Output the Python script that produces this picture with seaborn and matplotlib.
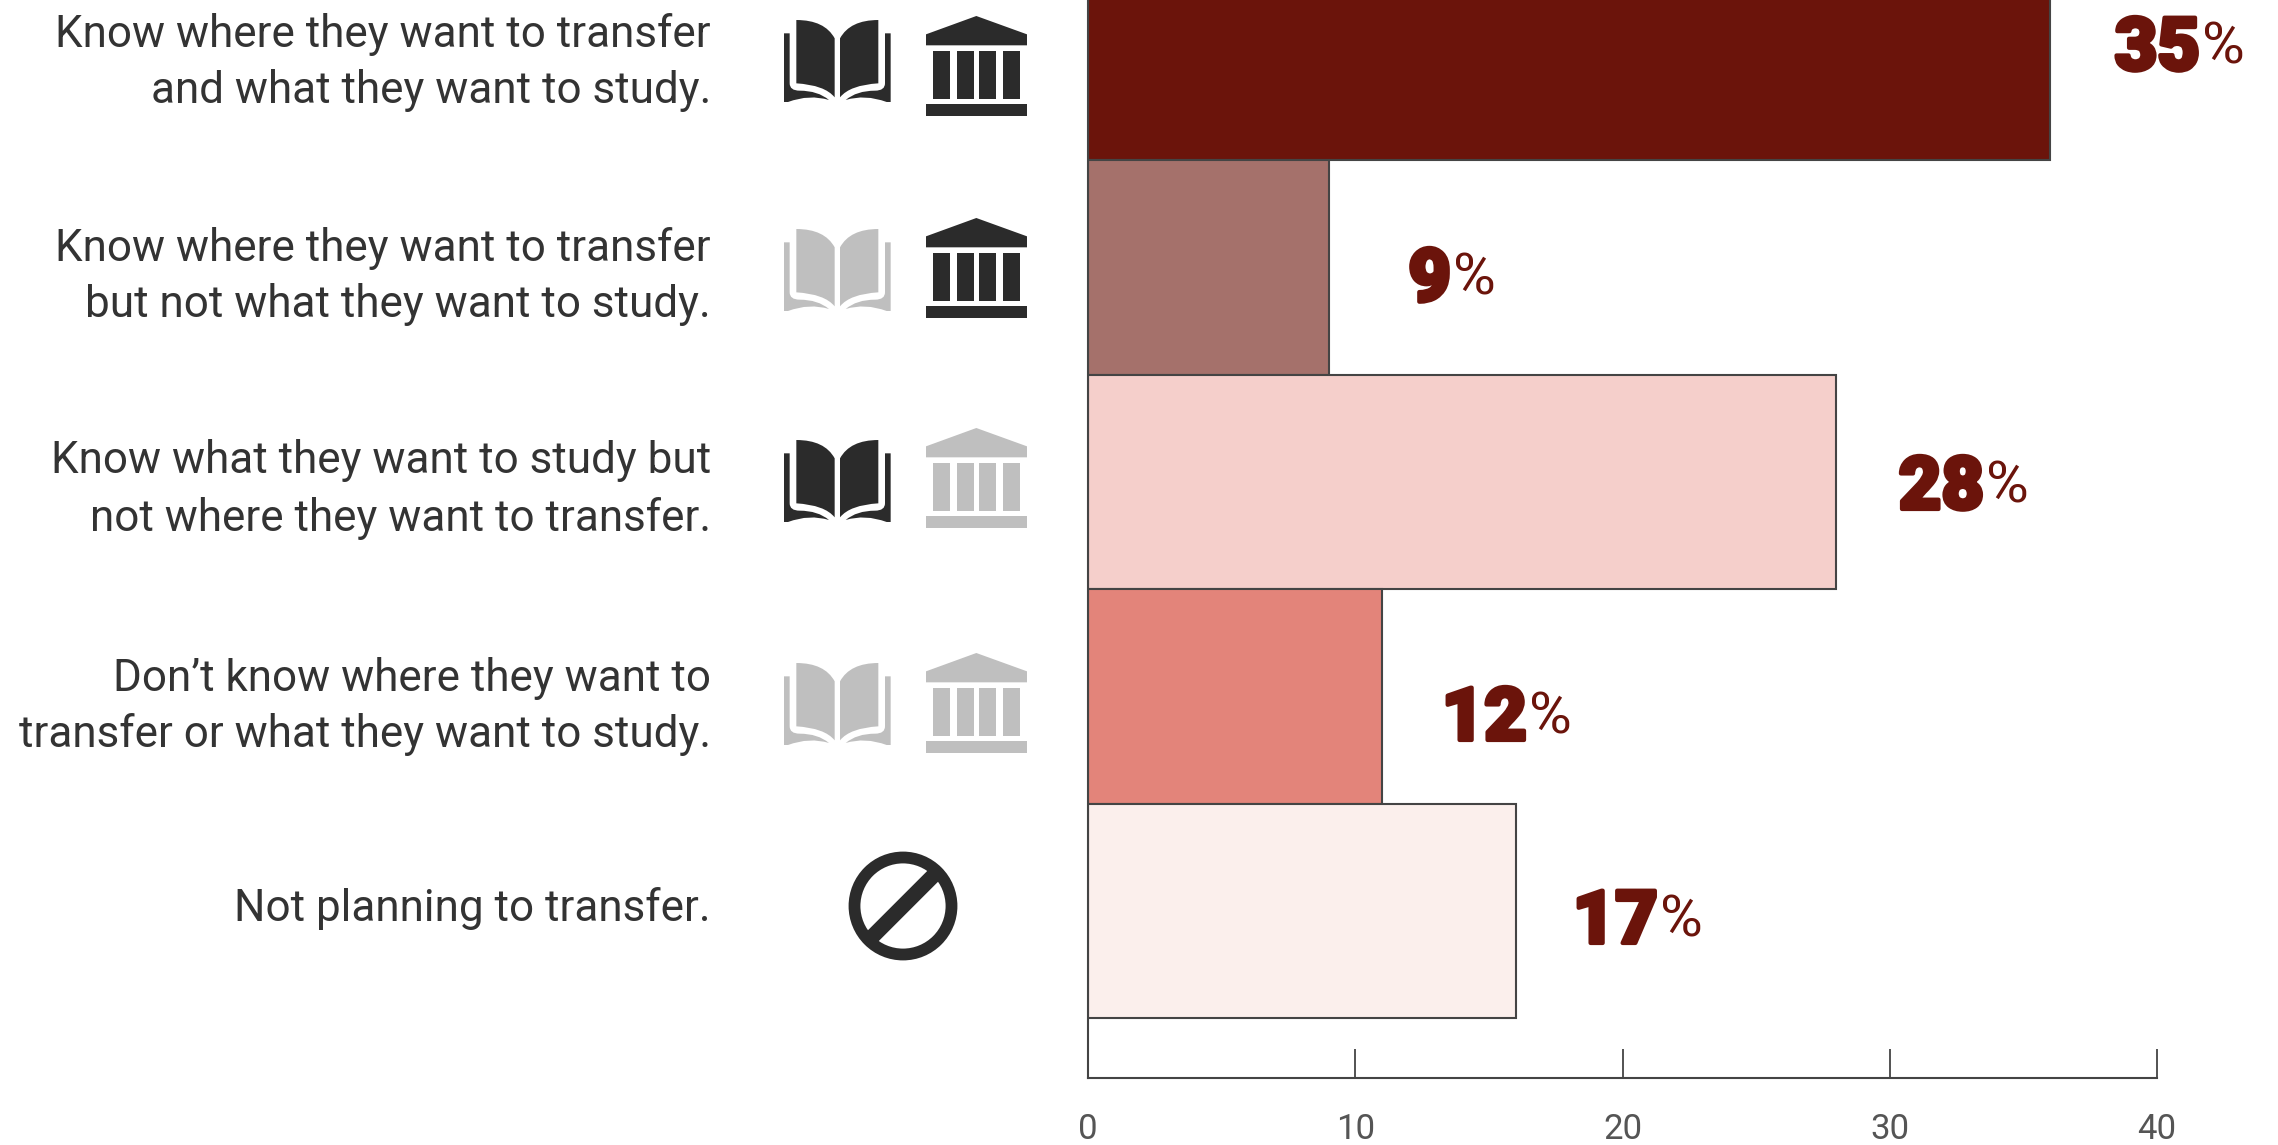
import pandas as pd
import matplotlib
matplotlib.use("Agg")
import matplotlib.pyplot as plt
import seaborn as sns
from matplotlib.path import Path
from matplotlib.patches import PathPatch, Circle, Polygon, Rectangle
import matplotlib.patheffects as pe

# data
categories = [
    "Know where they want to transfer\nand what they want to study.",
    "Know where they want to transfer\nbut not what they want to study.",
    "Know what they want to study but\nnot where they want to transfer.",
    "Don\u2019t know where they want to\ntransfer or what they want to study.",
    "Not planning to transfer.",
]
bar_values = [36, 9, 28, 11, 16]
label_values = ["35", "9", "28", "12", "17"]
bar_colors = ["#6b140b", "#a5716b", "#f5cfcb", "#e3847a", "#fbefec"]
x_ticks = [0, 10, 20, 30, 40]

W, H = 2278, 1145
DARK = "#2b2b2b"
GREY = "#bfbfbf"
TEXT = "#333333"
RED = "#6b140b"

sns.set_theme(style="white")
plt.rcParams["font.family"] = ["Roboto", "DejaVu Sans"]

fig = plt.figure(figsize=(W / 100, H / 100), dpi=100, facecolor="white")
ax = fig.add_axes([1088 / W, (H - 1078) / H, 1069 / W, 1078 / H])

df = pd.DataFrame({"group": categories, "value": bar_values})
sns.barplot(
    data=df,
    x="value",
    y="group",
    hue="group",
    palette=bar_colors,
    saturation=1,
    orient="h",
    width=1,
    legend=False,
    edgecolor="#444444",
    linewidth=1.5,
    ax=ax,
)
ax.set_xlim(0, 40)
ax.set_ylim(4.778, -0.247)
ax.set_xlabel("")
ax.set_ylabel("")
ax.set_yticks([])
ax.set_xticks(x_ticks)
ax.tick_params(axis="x", direction="in", length=21, width=1.3, color="#444444",
               pad=25, labelsize=25, labelcolor="#555555", bottom=True)
ax.spines["top"].set_visible(False)
ax.spines["right"].set_visible(False)
for s in ["left", "bottom"]:
    ax.spines[s].set_color("#444444")
    ax.spines[s].set_linewidth(1.5)
ax.patch.set_alpha(0)

# overlay in pixel coordinates for the row labels and icons
ov = fig.add_axes([0, 0, 1, 1], zorder=5)
ov.set_xlim(0, W)
ov.set_ylim(H, 0)
ov.axis("off")

line_y = [(35, 91), (249, 304), (461, 518), (679, 734), (909,)]
for cat, ys in zip(categories, line_y):
    for line, y in zip(cat.split("\n"), ys):
        ov.text(711, y, line, ha="right", va="center", fontsize=31.7,
                color=TEXT)

# percent labels: heavy number + thin percent sign
pct_x = [2200, 1451, 1984, 1527, 1658]
pct_y = [42, 273, 481, 712, 915]
for val, x, y in zip(label_values, pct_x, pct_y):
    ov.text(x, y, val, ha="right", va="center_baseline", fontsize=53,
            fontweight="black", color=RED,
            path_effects=[pe.withStroke(linewidth=3, foreground=RED)])
    ov.text(x + 2, y, "%", ha="left", va="center_baseline", fontsize=42,
            color=RED)


def book(x0, y0, color):
    # x0, y0 = top left of the icon, shape in zoomed px (3x)
    def tr(pts, mirror=False):
        out = []
        for px, py in pts:
            if mirror:
                px = 326 - px
            out.append((x0 + px / 3, y0 + py / 3))
        return out
    page = [(40, 0), (125, 0), (155, 55), (155, 232), (125, 195), (40, 190), (40, 0)]
    page_codes = [Path.MOVETO, Path.CURVE3, Path.CURVE3, Path.LINETO, Path.CURVE3, Path.CURVE3, Path.CLOSEPOLY]
    cover = [(3, 40), (20, 40), (20, 190), (20, 212), (50, 212), (105, 212), (138, 240),
             (80, 222), (15, 246), (3, 246), (3, 40)]
    cover_codes = [Path.MOVETO, Path.LINETO, Path.LINETO, Path.CURVE3, Path.CURVE3, Path.CURVE3, Path.CURVE3,
                   Path.CURVE3, Path.CURVE3, Path.LINETO, Path.CLOSEPOLY]
    for mirror in (False, True):
        ov.add_patch(PathPatch(Path(tr(page, mirror), page_codes), fc=color, ec="none"))
        ov.add_patch(PathPatch(Path(tr(cover, mirror), cover_codes), fc=color, ec="none"))


def building(x0, y0, color):
    pts = [(151, 0), (303, 55), (303, 88), (0, 88), (0, 55)]
    ov.add_patch(Polygon([(x0 + a / 3, y0 + b / 3) for a, b in pts], fc=color, ec="none"))
    for a, b in [(22, 73), (94, 145), (160, 210), (231, 282)]:
        ov.add_patch(Rectangle((x0 + a / 3, y0 + 105 / 3), (b - a) / 3, 145 / 3, fc=color, ec="none"))
    ov.add_patch(Rectangle((x0, y0 + 264 / 3), 101, 12, fc=color, ec="none"))


book_tops = [20, 229, 440, 663]
book_cols = [DARK, GREY, DARK, GREY]
build_tops = [16, 218, 428, 653]
build_cols = [DARK, DARK, GREY, GREY]
for t, c in zip(book_tops, book_cols):
    book(783, t, c)
for t, c in zip(build_tops, build_cols):
    building(926, t, c)

# "not planning" icon
ov.add_patch(Circle((903, 906), 48.5, fc="none", ec=DARK, lw=8.5))
ov.plot([868, 938], [941, 871], color=DARK, lw=11, solid_capstyle="butt")

fig.savefig("out.png", dpi=100)
